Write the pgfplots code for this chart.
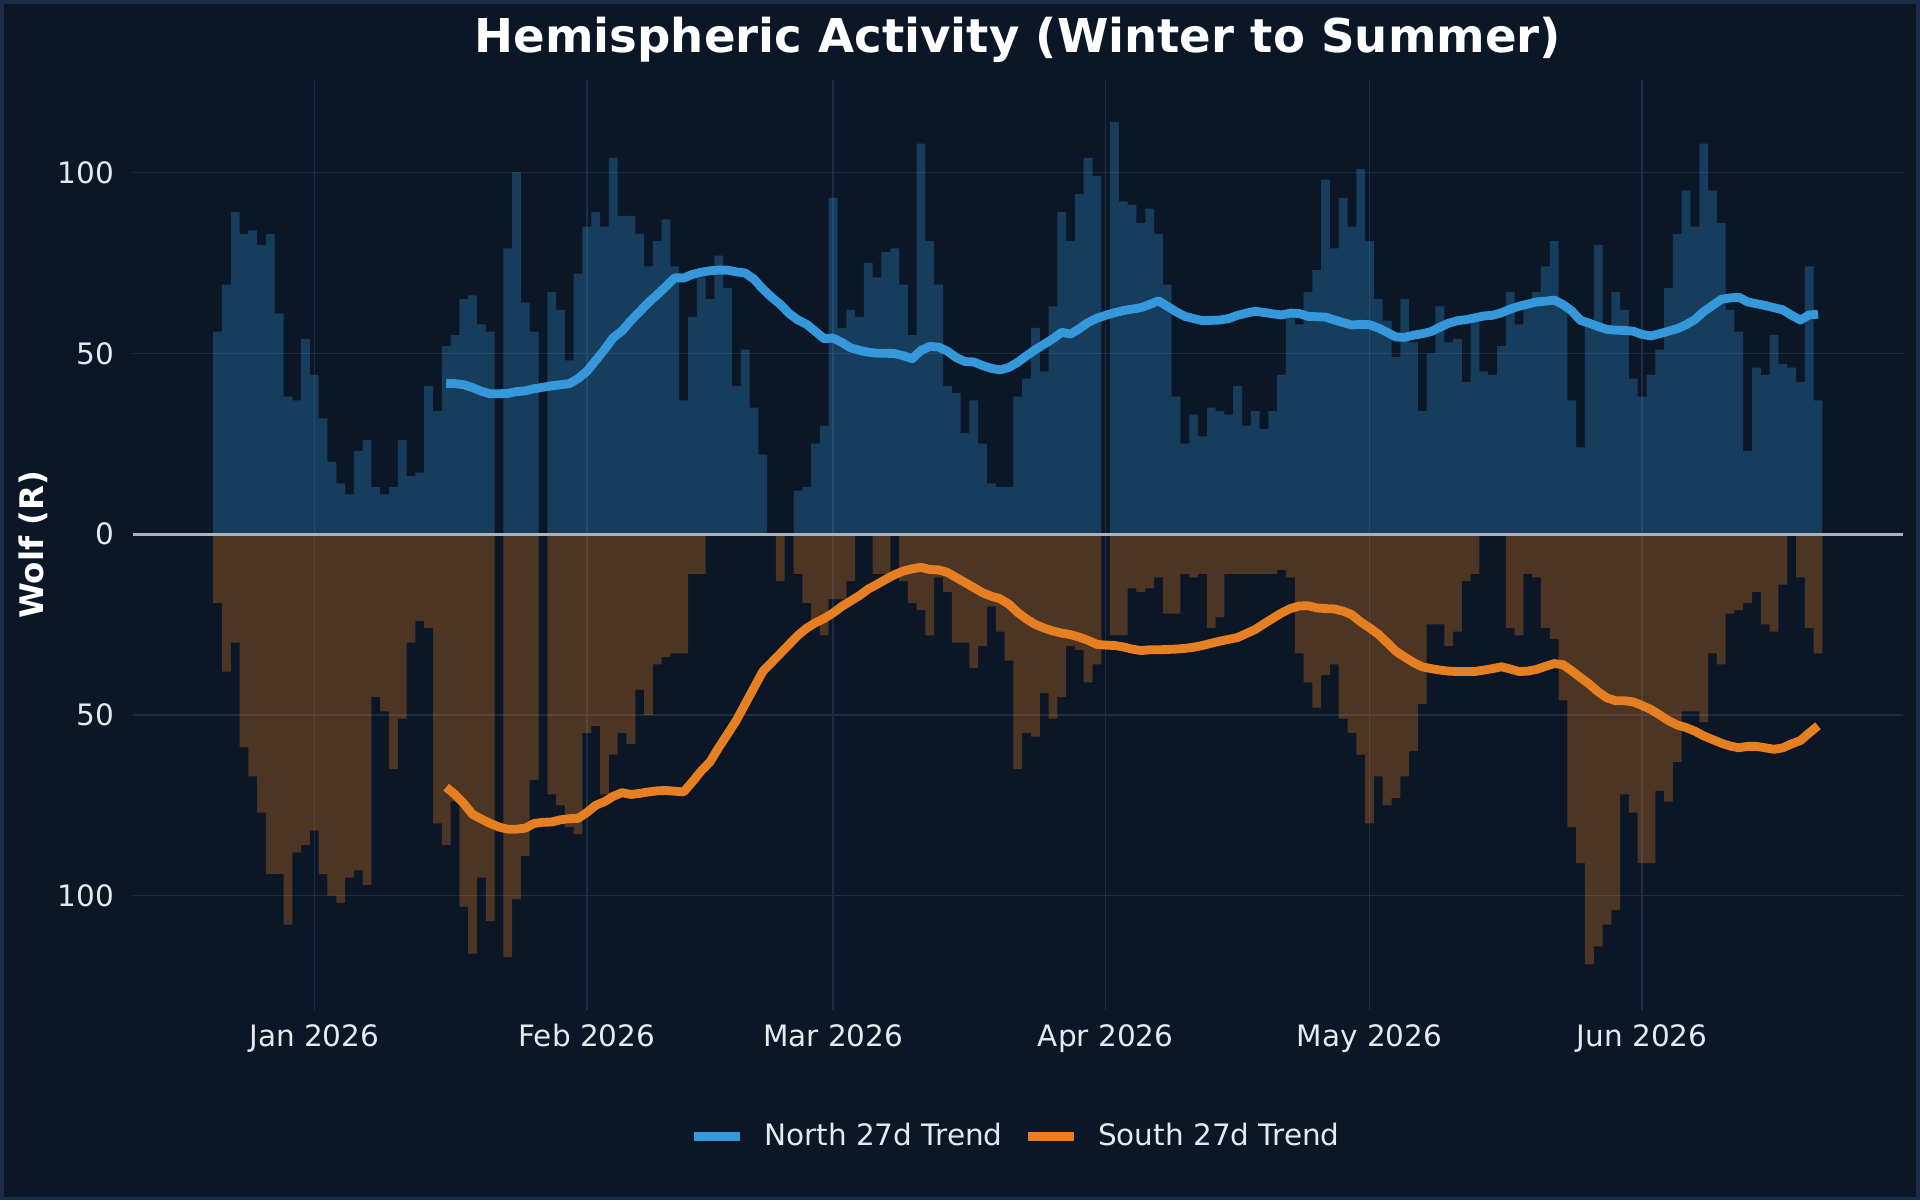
\documentclass[border=0pt]{standalone}
\usepackage{fontspec}
\setmainfont{DejaVu Sans}
\usepackage{pgfplots}
\usepackage{pgfplotstable}
\pgfplotsset{compat=1.18}

\definecolor{bgcol}{HTML}{0B1626}
\definecolor{bordercol}{HTML}{1C2D48}
\definecolor{gridcol}{HTML}{1D2C45}
\definecolor{northcol}{HTML}{3498DB}
\definecolor{southcol}{HTML}{E67E22}
\definecolor{zerocol}{HTML}{AAB2BC}
\definecolor{tickcol}{HTML}{E5E9EF}

% daily values (d = days from 1 Jan 2026); last row closes the final day's bar
\pgfplotstableread{
d n s
-11 56 -19
-10 69 -38
-9 89 -30
-8 83 -59
-7 84 -67
-6 80 -77
-5 83 -94
-4 61 -94
-3 38 -108
-2 37 -88
-1 54 -86
0 44 -82
1 32 -94
2 20 -100
3 14 -102
4 11 -95
5 23 -93
6 26 -97
7 13 -45
8 11 -49
9 13 -65
10 26 -51
11 16 -30
12 17 -24
13 41 -26
14 34 -80
15 52 -86
16 55 -74
17 65 -103
18 66 -116
19 58 -95
20 56 -107
21 0 0
22 79 -117
23 100 -101
24 64 -89
25 56 -68
26 0 0
27 67 -72
28 62 -75
29 48 -81
30 72 -83
31 85 -55
32 89 -53
33 85 -72
34 104 -61
35 88 -55
36 88 -58
37 83 -43
38 74 -50
39 81 -36
40 87 -34
41 74 -33
42 37 -33
43 60 -11
44 71 -11
45 65 0
46 77 0
47 68 0
48 41 0
49 51 0
50 35 0
51 22 0
52 0 0
53 0 -13
54 0 0
55 12 -11
56 13 -19
57 25 -24
58 30 -28
59 93 -18
60 57 -18
61 62 -13
62 60 0
63 75 0
64 71 -11
65 78 -11
66 79 0
67 69 -13
68 55 -19
69 108 -21
70 81 -28
71 69 -12
72 41 -16
73 39 -30
74 28 -30
75 37 -37
76 25 -31
77 14 -20
78 13 -27
79 13 -35
80 38 -65
81 43 -55
82 57 -56
83 45 -44
84 63 -51
85 89 -45
86 81 -31
87 94 -32
88 104 -41
89 99 -36
90 0 0
91 114 -28
92 92 -28
93 91 -15
94 86 -16
95 90 -15
96 83 -12
97 69 -22
98 38 -22
99 25 -11
100 33 -12
101 27 -11
102 35 -26
103 34 -23
104 33 -11
105 41 -11
106 30 -11
107 34 -11
108 29 -11
109 34 -11
110 44 -10
111 60 -12
112 58 -33
113 67 -41
114 73 -48
115 98 -39
116 79 -36
117 93 -51
118 85 -55
119 101 -61
120 81 -80
121 65 -67
122 59 -75
123 49 -73
124 65 -67
125 53 -60
126 34 -47
127 50 -25
128 63 -25
129 53 -31
130 54 -27
131 42 -13
132 59 -11
133 45 0
134 44 0
135 52 0
136 67 -26
137 58 -28
138 64 -11
139 67 -12
140 74 -26
141 81 -29
142 64 -46
143 37 -81
144 24 -91
145 58 -119
146 80 -114
147 56 -108
148 67 -104
149 62 -72
150 43 -77
151 38 -91
152 44 -91
153 51 -71
154 68 -74
155 83 -63
156 95 -49
157 85 -49
158 108 -52
159 95 -33
160 86 -36
161 62 -22
162 56 -21
163 23 -19
164 46 -16
165 44 -25
166 55 -27
167 47 -14
168 46 0
169 42 -12
170 74 -26
171 37 -33
172 37 -33
}\bars

\pgfplotstableread{
d tn ts
15 41.7 -70.0
16 41.6 -72.0
17 41.3 -74.5
18 40.5 -77.5
19 39.5 -78.8
20 38.8 -80.0
21 38.8 -81.0
22 38.9 -81.6
23 39.4 -81.6
24 39.6 -81.3
25 40.2 -80.0
26 40.6 -79.7
27 41.0 -79.6
28 41.3 -79.0
29 41.6 -78.7
30 43.0 -78.6
31 45.0 -77.0
32 48.0 -75.0
33 51.0 -74.0
34 54.3 -72.5
35 56.2 -71.5
36 59.0 -72.0
37 61.5 -71.7
38 64.0 -71.3
39 66.2 -71.0
40 68.5 -70.9
41 70.9 -71.1
42 70.8 -71.3
43 71.8 -68.5
44 72.4 -65.5
45 72.8 -63.0
46 73.0 -59.0
47 73.0 -55.3
48 72.5 -51.5
49 72.2 -47.0
50 70.5 -42.5
51 67.8 -38.0
52 65.5 -35.5
53 63.5 -33.0
54 61.0 -30.5
55 59.2 -28.0
56 58.0 -26.0
57 56.0 -24.5
58 54.0 -23.3
59 54.2 -21.8
60 53.0 -20.0
61 51.5 -18.5
62 50.8 -17.0
63 50.3 -15.2
64 50.0 -13.9
65 50.0 -12.5
66 49.9 -11.2
67 49.3 -10.2
68 48.5 -9.6
69 50.8 -9.2
70 51.9 -9.8
71 51.7 -9.9
72 50.6 -10.6
73 48.8 -12.0
74 47.7 -13.4
75 47.6 -14.8
76 46.6 -16.2
77 45.8 -17.2
78 45.4 -17.9
79 46.1 -19.4
80 47.5 -21.7
81 49.3 -23.5
82 51.0 -25.0
83 52.5 -26.0
84 54.0 -26.8
85 55.8 -27.4
86 55.3 -27.8
87 56.8 -28.5
88 58.5 -29.4
89 59.7 -30.5
90 60.5 -30.7
91 61.2 -30.8
92 61.8 -31.2
93 62.2 -31.8
94 62.6 -32.2
95 63.5 -32.0
96 64.5 -32.0
97 63.0 -31.9
98 61.5 -31.8
99 60.2 -31.6
100 59.6 -31.3
101 59.0 -30.8
102 59.1 -30.2
103 59.2 -29.6
104 59.6 -29.1
105 60.5 -28.6
106 61.1 -27.5
107 61.6 -26.4
108 61.3 -24.8
109 60.9 -23.3
110 60.6 -21.8
111 61.1 -20.6
112 61.0 -19.9
113 60.2 -19.8
114 60.1 -20.4
115 60.0 -20.6
116 59.2 -20.7
117 58.5 -21.3
118 57.8 -22.3
119 58.0 -24.3
120 57.9 -25.9
121 57.0 -27.7
122 55.8 -30.0
123 54.5 -32.4
124 54.4 -34.0
125 55.0 -35.5
126 55.4 -36.7
127 56.0 -37.2
128 57.2 -37.6
129 58.3 -37.9
130 59.0 -38.0
131 59.3 -38.0
132 59.8 -38.0
133 60.3 -37.6
134 60.5 -37.2
135 61.2 -36.7
136 62.2 -37.3
137 63.0 -38.0
138 63.6 -37.9
139 64.2 -37.4
140 64.4 -36.6
141 64.7 -35.8
142 63.5 -36.1
143 61.7 -37.8
144 59.1 -39.7
145 58.3 -41.5
146 57.4 -43.6
147 56.6 -45.3
148 56.4 -46.1
149 56.3 -46.1
150 56.1 -46.4
151 55.2 -47.4
152 54.8 -48.5
153 55.4 -50.0
154 56.1 -51.6
155 56.8 -52.8
156 57.9 -53.5
157 59.3 -54.5
158 61.5 -55.8
159 63.2 -56.8
160 64.9 -57.8
161 65.3 -58.6
162 65.5 -59.1
163 64.2 -58.7
164 63.7 -58.7
165 63.2 -59.1
166 62.6 -59.5
167 62.0 -59.1
168 60.5 -58.0
169 59.2 -57.1
170 60.6 -55.0
171 60.8 -53.0
}\trend

\begin{document}
\begin{tikzpicture}[x=1pt,y=1pt]
\fill[bgcol] (0,0) rectangle (650.8,406.8);
\draw[bordercol, line width=1.2pt] (0.6,0.6) rectangle (650.2,406.2);
\begin{axis}[
  at={(44.98pt,64.45pt)}, anchor=south west,
  scale only axis, width=600pt, height=315.4pt,
  xmin=-20.65, xmax=180.65, ymin=-131.6, ymax=125.7,
  axis line style={draw=none},
  major tick length=0pt,
  tick style={draw=none},
  xtick={0,31,59,90,120,151},
  xticklabels={Jan 2026,Feb 2026,Mar 2026,Apr 2026,May 2026,Jun 2026},
  ytick={-100,-50,0,50,100},
  yticklabels={\mbox{100},\mbox{50},\mbox{0},\mbox{50},\mbox{100}},
  grid=major,
  major grid style={gridcol, line width=0.45pt},
  tick label style={font=\fontsize{10}{12}\selectfont, text=tickcol},
  xticklabel style={inner sep=0pt, anchor=north, yshift=-4.6pt},
  yticklabel style={inner sep=0pt, anchor=east, xshift=-6.2pt},
  legend image code/.code={\draw[#1, line width=3pt] (0pt,0pt) -- (15.6pt,0pt);},
  legend style={at={(0.5,-0.136)}, anchor=center, draw=none, fill=none,
    font=\fontsize{10}{12}\selectfont, text=tickcol, legend columns=2,
    /tikz/every odd column/.append style={column sep=4.6pt},
    /tikz/every even column/.append style={column sep=5.2pt}},
  legend cell align=left,
  clip=false,
]
\addplot[const plot mark left, draw=none, fill=northcol, fill opacity=0.3, forget plot]
  table[x expr=\thisrow{d}-0.5, y=n] {\bars} \closedcycle;
\addplot[const plot mark left, draw=none, fill=southcol, fill opacity=0.3, forget plot]
  table[x expr=\thisrow{d}-0.5, y=s] {\bars} \closedcycle;
\addplot[zerocol, line width=1pt, forget plot] coordinates {(-20.65,0) (180.65,0)};
\addplot[northcol, line width=3pt, line join=round] table[x=d, y=tn] {\trend};
\addlegendentry{North 27d Trend}
\addplot[southcol, line width=3pt, line join=round] table[x=d, y=ts] {\trend};
\addlegendentry{South 27d Trend}
\end{axis}
\node[anchor=base, font=\bfseries\fontsize{15.8}{19}\selectfont, text=white] at (345,388.94) {Hemispheric Activity (Winter to Summer)};
\node[anchor=base, rotate=90, font=\bfseries\fontsize{11}{13}\selectfont, text=white] at (14.6,222.15) {Wolf (R)};
\end{tikzpicture}
\end{document}
